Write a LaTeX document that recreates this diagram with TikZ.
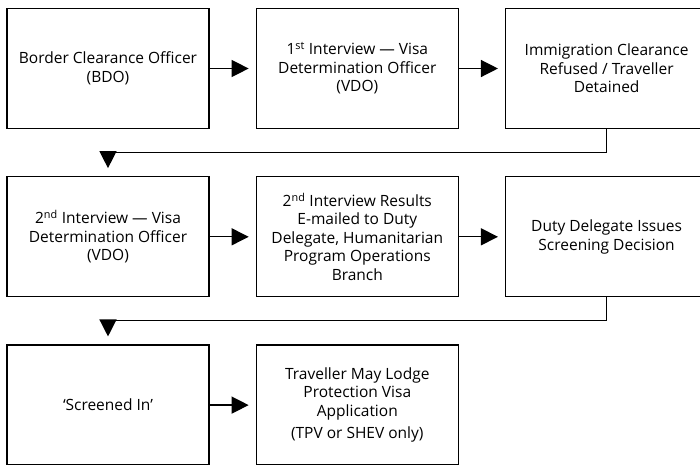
\documentclass[tikz,border=0pt]{standalone}
\usepackage{fontspec}
\setmainfont{Open Sans}
\usetikzlibrary{arrows.meta,positioning}

\begin{document}
\begin{tikzpicture}[x=1pt,y=1pt]

\tikzset{stage/.style={draw, line width=1.3pt, minimum width=202pt, minimum height=120pt,
    align=center, inner sep=0pt, font=\fontsize{15.5}{18.5}\selectfont},
  flow/.style={line width=1.3pt, -{Triangle[length=17pt,width=17pt]}, shorten >=7pt}}

\useasboundingbox (0,0) rectangle (700,-464);

% first row
\node[stage] (bdo) at (108,-68.5) {Border Clearance Officer\\(BDO)};
\node[stage, right=46pt of bdo] (vdoone) {1\textsuperscript{st} Interview --- Visa\\Determination Officer\\(VDO)};
\node[stage, right=46pt of vdoone] (refused) {Immigration Clearance\\Refused / Traveller\\Detained};

% second row
\node[stage, below=47pt of bdo] (vdotwo) {2\textsuperscript{nd} Interview --- Visa\\Determination Officer\\(VDO)};
\node[stage, right=46pt of vdotwo] (emailed) {2\textsuperscript{nd} Interview Results\\E-mailed to Duty\\Delegate, Humanitarian\\Program Operations\\Branch};
\node[stage, right=46pt of emailed] (decision) {Duty Delegate Issues\\Screening Decision};

% third row
\node[stage, below=47pt of vdotwo] (screened) {‘Screened In’};
\node[stage, right=46pt of screened] (lodge) {Traveller May Lodge\\Protection Visa\\Application\\[4pt](TPV or SHEV only)};

\draw[flow] (bdo) -- (vdoone);
\draw[flow] (vdoone) -- (refused);
\draw[flow, shorten >=8pt] (refused.south) -- ++(0,-23) -| (vdotwo.north);
\draw[flow] (vdotwo) -- (emailed);
\draw[flow] (emailed) -- (decision);
\draw[flow, shorten >=8pt] (decision.south) -- ++(0,-23) -| (screened.north);
\draw[flow] (screened) -- (lodge);

\end{tikzpicture}
\end{document}
